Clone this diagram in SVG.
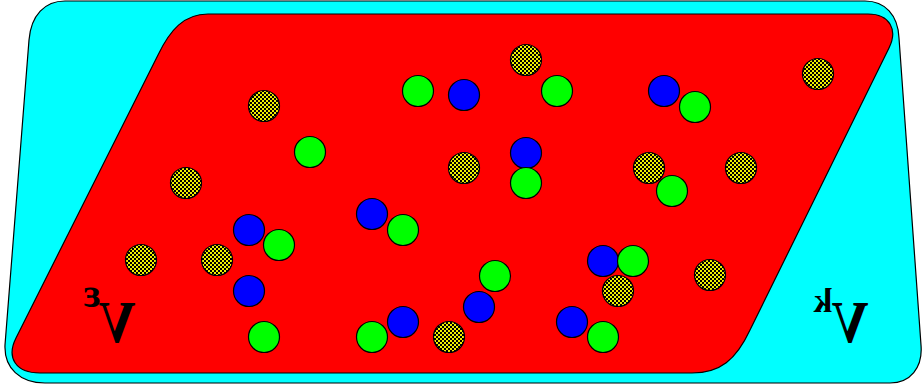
<svg xmlns="http://www.w3.org/2000/svg" width="924" height="390" viewBox="0 0 924 390">
<defs>
<pattern id="chk" width="4" height="4" patternUnits="userSpaceOnUse">
<rect width="4" height="4" fill="#f0f000"/>
<rect width="2" height="2" fill="#000"/>
<rect x="2" y="2" width="2" height="2" fill="#000"/>
</pattern>
</defs>
<style>
.c{stroke:#000;stroke-width:1.2}
.h{fill:url(#chk)}
.g{fill:#00ff00}
.b{fill:#0000ff}
.lbl{font-family:"Liberation Serif","Times New Roman",serif;font-weight:bold;fill:#000}
</style>
<g id="outer">
<path d="M65,1 L865,1 C885,1 898,15 899,38 L921,345 C923,368 910,383 890,383 L45,383 C20,383 4,368 5,345 L29,40 C31,15 45,1 65,1 Z" fill="#00ffff" stroke="#000" stroke-width="1.2"/>
</g>
<g id="inner">
<path d="M208,14 L868,14 C890,14 898,30 889,48 L750,330 C736,360 720,373 692,373 L40,373 C16,373 6,358 16,338 L158,55 C170,30 184,14 208,14 Z" fill="#ff0000" stroke="#000" stroke-width="1.2"/>
</g>
<g id="hatched">
<circle class="c h" cx="526" cy="60" r="15.5"/>
<circle class="c h" cx="818" cy="74" r="15.5"/>
<circle class="c h" cx="264" cy="106" r="15.5"/>
<circle class="c h" cx="464" cy="168" r="15.5"/>
<circle class="c h" cx="649" cy="168" r="15.5"/>
<circle class="c h" cx="741" cy="168" r="15.5"/>
<circle class="c h" cx="186" cy="183" r="15.5"/>
<circle class="c h" cx="141" cy="260" r="15.5"/>
<circle class="c h" cx="217" cy="260" r="15.5"/>
<circle class="c h" cx="710" cy="275" r="15.5"/>
<circle class="c h" cx="618" cy="291" r="15.5"/>
<circle class="c h" cx="449" cy="337" r="15.5"/>
</g>
<g id="blue">
<circle class="c b" cx="464" cy="95" r="15.5"/>
<circle class="c b" cx="664" cy="91" r="15.5"/>
<circle class="c b" cx="526" cy="153" r="15.5"/>
<circle class="c b" cx="372" cy="214" r="15.5"/>
<circle class="c b" cx="249" cy="230" r="15.5"/>
<circle class="c b" cx="603" cy="261" r="15.5"/>
<circle class="c b" cx="249" cy="291" r="15.5"/>
<circle class="c b" cx="479" cy="307" r="15.5"/>
<circle class="c b" cx="403" cy="322" r="15.5"/>
<circle class="c b" cx="572" cy="322" r="15.5"/>
</g>
<g id="green">
<circle class="c g" cx="418" cy="91" r="15.5"/>
<circle class="c g" cx="557" cy="91" r="15.5"/>
<circle class="c g" cx="695" cy="107" r="15.5"/>
<circle class="c g" cx="310" cy="152" r="15.5"/>
<circle class="c g" cx="526" cy="183" r="15.5"/>
<circle class="c g" cx="672" cy="191" r="15.5"/>
<circle class="c g" cx="403" cy="230" r="15.5"/>
<circle class="c g" cx="279" cy="245" r="15.5"/>
<circle class="c g" cx="633" cy="261" r="15.5"/>
<circle class="c g" cx="495" cy="276" r="15.5"/>
<circle class="c g" cx="264" cy="337" r="15.5"/>
<circle class="c g" cx="372" cy="337" r="15.5"/>
<circle class="c g" cx="603" cy="337" r="15.5"/>
</g>
<g id="label-eps">
<g transform="translate(117,342) scale(-0.85,1)"><text class="lbl" x="0" y="0" font-size="60" text-anchor="middle">V</text></g>
<g transform="translate(92,307) scale(-1,1)"><text class="lbl" x="0" y="0" font-size="40" text-anchor="middle">ε</text></g>
</g>
<g id="label-k">
<g transform="translate(850,342) scale(-0.85,1)"><text class="lbl" x="0" y="0" font-size="60" text-anchor="middle">V</text></g>
<g transform="translate(823,312) scale(-1,1)"><text class="lbl" x="0" y="0" font-size="34" text-anchor="middle">k</text></g>
</g>
</svg>
